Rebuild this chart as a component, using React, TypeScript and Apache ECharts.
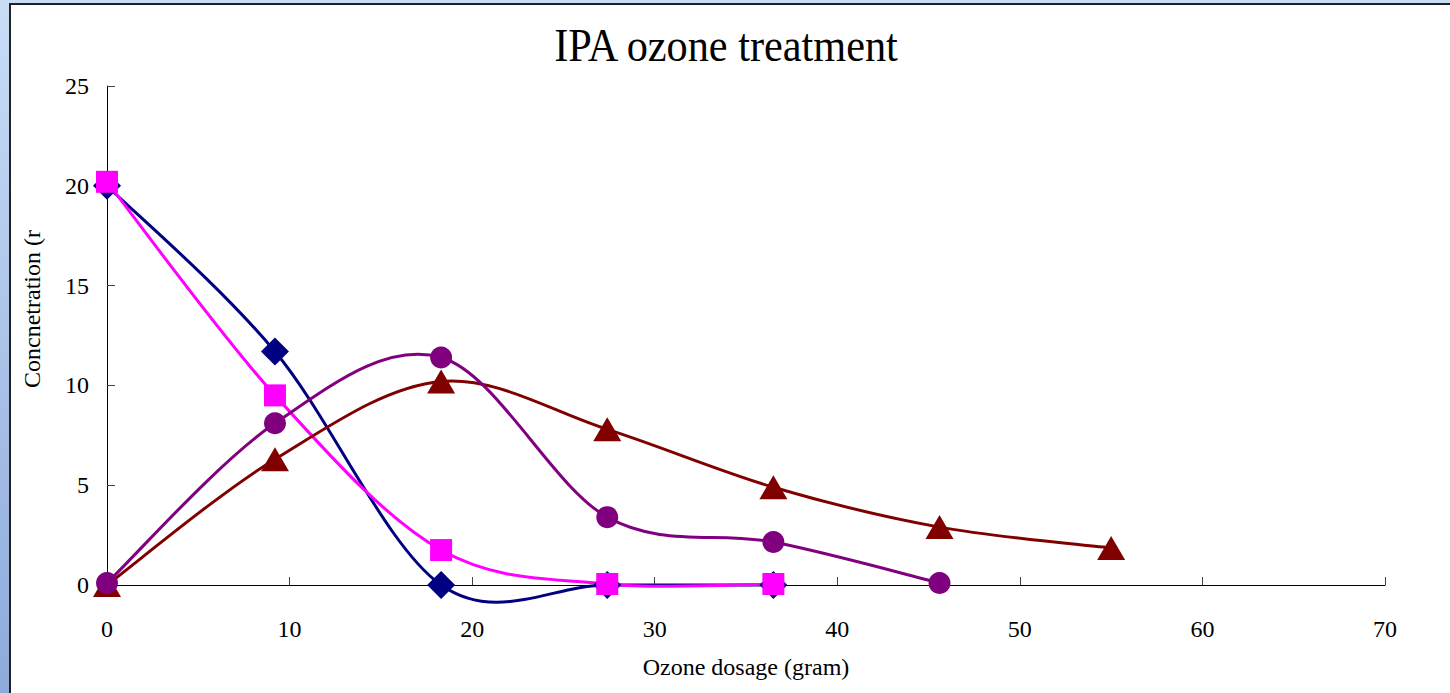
import React, { useEffect, useRef } from "react";
import * as echarts from "echarts";

// Ozone dosage (gram) at each sampling point
const doses = [0, 9.2, 18.3, 27.4, 36.5, 45.6, 55.0];
// Concentration series
const seriesNavy = [20.0, 11.7, 0, 0, 0];
const seriesMagenta = [20.2, 9.5, 1.75, 0.05, 0.05];
const seriesDarkRed = [0, 6.3, 10.2, 7.8, 4.9, 2.9, 1.85];
const seriesPurple = [0.1, 8.1, 11.4, 3.4, 2.15, 0.1];

const titleText = "IPA ozone treatment";
const xName = "Ozone dosage (gram)";
const yName = "Concnetration (r";

const pair = (vals: number[]) => vals.map((v, i) => [doses[i], v]);

export default function App() {
  const ref = useRef<HTMLDivElement>(null);
  useEffect(() => {
    document.body.style.margin = "0";
    if (!ref.current) return;
    const chart = echarts.init(ref.current, null, { renderer: "svg" });
    const font = "'Liberation Serif', 'Times New Roman', serif";

    // Smooth curve (Excel-like cardinal spline) drawn segment by segment,
    // each segment mapped through the axes with api.coord.
    const curve = (name: string, vals: number[], color: string) => ({
      name,
      type: "custom",
      data: pair(vals),
      encode: { x: 0, y: 1 },
      clip: false,
      silent: true,
      renderItem: (params: any, api: any) => {
        const i = params.dataIndex;
        const n = vals.length;
        if (i >= n - 1) return null;
        const p = (j: number) => {
          const k = Math.max(0, Math.min(n - 1, j));
          return api.coord([doses[k], vals[k]]);
        };
        const p0 = p(i - 1);
        const p1 = p(i);
        const p2 = p(i + 1);
        const p3 = p(i + 2);
        const t = 1 / 6;
        return {
          type: "bezierCurve",
          shape: {
            x1: p1[0],
            y1: p1[1],
            x2: p2[0],
            y2: p2[1],
            cpx1: p1[0] + (p2[0] - p0[0]) * t,
            cpy1: p1[1] + (p2[1] - p0[1]) * t,
            cpx2: p2[0] - (p3[0] - p1[0]) * t,
            cpy2: p2[1] - (p3[1] - p1[1]) * t,
          },
          style: { stroke: color, lineWidth: 3, fill: "none", lineCap: "round" },
        };
      },
    });
    const marks = (
      name: string,
      vals: number[],
      color: string,
      symbol: string,
      size: number | number[]
    ) => ({
      name,
      type: "scatter",
      data: pair(vals),
      symbol,
      symbolSize: size,
      clip: false,
      itemStyle: { color, opacity: 1, borderWidth: 0 },
    });

    chart.setOption({
      animation: false,
      backgroundColor: "transparent",
      grid: { left: 107, right: 65, top: 86, bottom: 108 },
      graphic: [
        {
          type: "text",
          x: 726,
          y: 22,
          scaleX: 0.9,
          style: {
            text: titleText,
            fontFamily: font,
            fontSize: 47,
            fill: "#000",
            textAlign: "center",
            textVerticalAlign: "top",
          },
        },
        {
          type: "text",
          x: 32,
          y: 309,
          rotation: Math.PI / 2,
          style: {
            text: yName,
            fontFamily: font,
            fontSize: 24,
            fill: "#000",
            textAlign: "center",
            textVerticalAlign: "middle",
          },
        },
      ],
      xAxis: {
        type: "value",
        min: 0,
        max: 70,
        interval: 10,
        name: xName,
        nameLocation: "middle",
        nameGap: 70,
        nameTextStyle: { fontFamily: font, fontSize: 24, color: "#000" },
        axisLine: { show: true, onZero: false, lineStyle: { color: "#000", width: 1 } },
        axisTick: { show: true, inside: true, length: 8, lineStyle: { color: "#444" } },
        axisLabel: { fontFamily: font, fontSize: 24, color: "#000", margin: 32 },
        splitLine: { show: false },
      },
      yAxis: {
        type: "value",
        min: 0,
        max: 25,
        interval: 5,
        axisLine: { show: true, lineStyle: { color: "#000", width: 1 } },
        axisTick: { show: true, inside: true, length: 8, lineStyle: { color: "#444" } },
        axisLabel: { fontFamily: font, fontSize: 24, color: "#000", margin: 18 },
        splitLine: { show: false },
      },
      series: [
        curve("Series 1", seriesNavy, "#000080"),
        marks("Series 1", seriesNavy, "#000080", "diamond", 28),
        curve("Series 2", seriesMagenta, "#FF00FF"),
        marks("Series 2", seriesMagenta, "#FF00FF", "rect", 22),
        curve("Series 4", seriesDarkRed, "#800000"),
        marks("Series 4", seriesDarkRed, "#800000", "triangle", [28, 24]),
        curve("Series 3", seriesPurple, "#800080"),
        marks("Series 3", seriesPurple, "#800080", "circle", 22),
      ],
    });
    return () => chart.dispose();
  }, []);
  return (
    <div
      style={{
        position: "relative",
        width: 1450,
        height: 693,
        overflow: "hidden",
        background: "linear-gradient(180deg, #c9ddf6 0%, #8eaadc 100%)",
      }}
    >
      <div
        style={{
          position: "absolute",
          left: 9,
          top: 3,
          right: -2,
          bottom: -2,
          background: "#fff",
          borderLeft: "2px solid #222",
          borderTop: "2px solid #222",
        }}
      />
      <div ref={ref} style={{ position: "absolute", left: 0, top: 0, width: 1450, height: 693 }} />
    </div>
  );
}
